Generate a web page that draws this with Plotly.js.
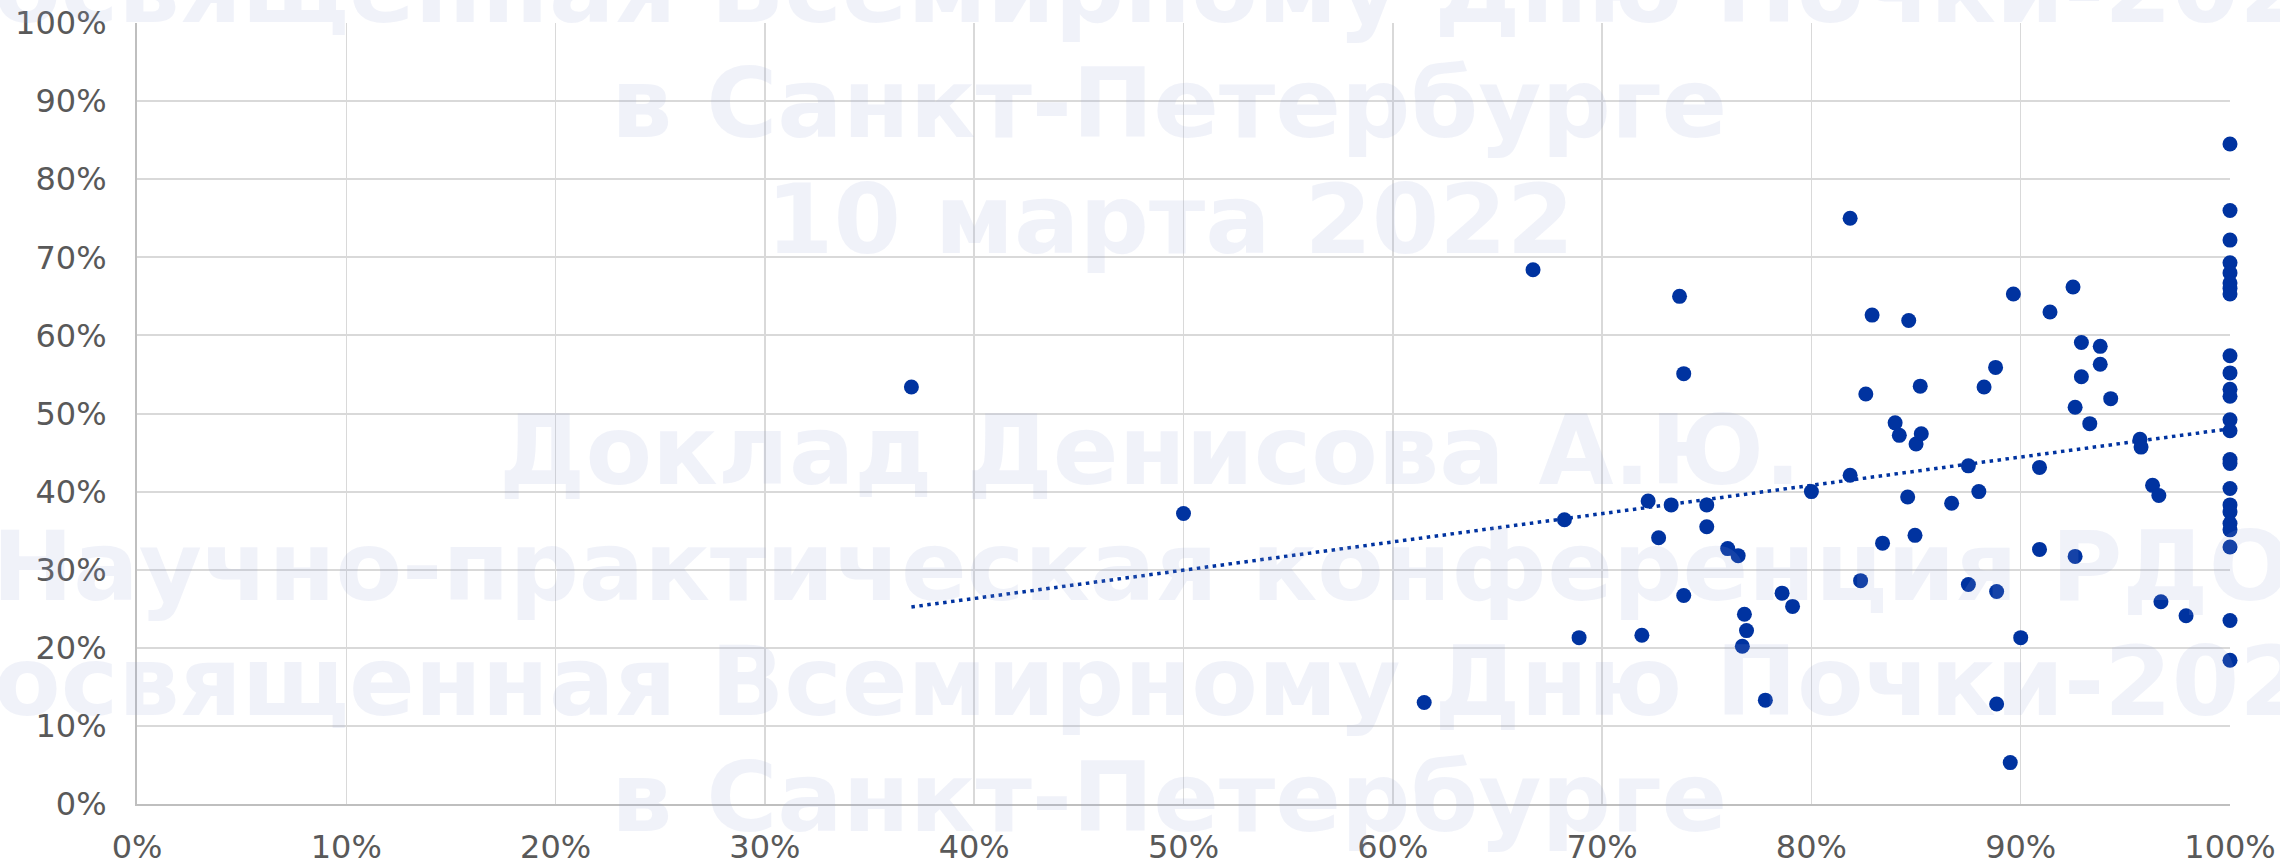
<!DOCTYPE html>
<html>
<head>
<meta charset="utf-8">
<script src="https://cdn.plot.ly/plotly-3.0.1.min.js"></script>
<style>
  html, body { margin: 0; padding: 0; background: #ffffff; }
  #chart { width: 2280px; height: 862px; }
</style>
</head>
<body>
<div id="chart"></div>
<script>
// ---- Data (fractions) ----
var xValues = [
  0.370, 0.500, 0.615, 0.667, 0.682, 0.689, 0.719, 0.722, 0.727, 0.733,
  0.737, 0.739, 0.739, 0.750, 0.750, 0.760, 0.765, 0.768, 0.769, 0.767,
  0.778, 0.786, 0.791, 0.800, 0.8185, 0.8185, 0.8235, 0.826, 0.829, 0.834,
  0.840, 0.842, 0.8465, 0.846, 0.850, 0.8495, 0.852, 0.8525, 0.867, 0.875,
  0.875, 0.880, 0.8825, 0.888, 0.8885, 0.8885, 0.895, 0.8965, 0.900, 0.909,
  0.909, 0.914, 0.925, 0.926, 0.926, 0.929, 0.929, 0.933, 0.938, 0.938,
  0.943, 0.957, 0.9575, 0.963, 0.966, 0.967, 0.979,
  1.0, 1.0, 1.0, 1.0, 1.0, 1.0, 1.0, 1.0, 1.0, 1.0,
  1.0, 1.0, 1.0, 1.0, 1.0, 1.0, 1.0, 1.0, 1.0, 1.0,
  1.0, 1.0, 1.0, 1.0
];
var yValues = [
  0.534, 0.372, 0.130, 0.684, 0.364, 0.213, 0.216, 0.388, 0.341, 0.383,
  0.650, 0.551, 0.267, 0.383, 0.355, 0.327, 0.318, 0.243, 0.222, 0.202,
  0.133, 0.270, 0.253, 0.400, 0.750, 0.421, 0.286, 0.525, 0.626, 0.334,
  0.488, 0.472, 0.619, 0.393, 0.461, 0.344, 0.535, 0.474, 0.385, 0.433,
  0.281, 0.400, 0.534, 0.559, 0.272, 0.128, 0.053, 0.653, 0.213, 0.431,
  0.326, 0.630, 0.662, 0.508, 0.317, 0.591, 0.547, 0.487, 0.586, 0.563,
  0.519, 0.467, 0.457, 0.408, 0.395, 0.259, 0.241,
  0.845, 0.760, 0.722, 0.693, 0.680, 0.667, 0.660, 0.653, 0.574, 0.552,
  0.531, 0.522, 0.492, 0.478, 0.441, 0.436, 0.404, 0.383, 0.374, 0.359,
  0.351, 0.329, 0.235, 0.184
];
var tickValues = [0, 0.1, 0.2, 0.3, 0.4, 0.5, 0.6, 0.7, 0.8, 0.9, 1.0];
var tickLabels = ['0%', '10%', '20%', '30%', '40%', '50%', '60%', '70%', '80%', '90%', '100%'];
var watermarkLines = [
  'посвященная Всемирному Дню Почки-2022',
  'в Санкт-Петербурге',
  '10 марта 2022',
  '',
  'Доклад Денисова А.Ю.',
  'Научно-практическая конференция РДО,',
  'посвященная Всемирному Дню Почки-2022',
  'в Санкт-Петербурге'
];

// ---- Linear trendline (least squares, like Excel) ----
var n = Math.min(xValues.length, yValues.length), sx = 0, sy = 0, sxx = 0, sxy = 0;
for (var i = 0; i < n; i++) {
  sx += xValues[i]; sy += yValues[i];
  sxx += xValues[i] * xValues[i]; sxy += xValues[i] * yValues[i];
}
var slope = (n * sxy - sx * sy) / (n * sxx - sx * sx);
var intercept = (sy - slope * sx) / n;
var xMin = Math.min.apply(null, xValues), xMax = Math.max.apply(null, xValues);
var trendX = [xMin, xMax];
var trendY = trendX.map(function (v) { return intercept + slope * v; });

var blue = '#0033A0';
var tickFont = { family: 'DejaVu Sans, Verdana, sans-serif', size: 32, color: '#595959' };

var traces = [
  {
    type: 'scatter', mode: 'lines', x: trendX, y: trendY,
    line: { color: blue, width: 3.5, dash: '3.5px,4.5px' },
    hoverinfo: 'skip', showlegend: false
  },
  {
    type: 'scatter', mode: 'markers', x: xValues, y: yValues,
    marker: { color: blue, size: 15, line: { width: 0 } },
    cliponaxis: false, hoverinfo: 'x+y', showlegend: false
  }
];

// watermark geometry (pixels in the 2280x862 page)
var plotL = 137, plotR = 50, plotT = 23, plotB = 58;
var plotW = 2280 - plotL - plotR, plotH = 862 - plotT - plotB;
var wmCentersX = [1150, 1169, 1170, 1160, 1150, 1160, 1150, 1169];
var wmFirstY = -11.5, wmStep = 115.5;
var annotations = [];
watermarkLines.forEach(function (line, k) {
  if (!line) return;
  var yPx = wmFirstY + k * wmStep;
  annotations.push({
    xref: 'paper', yref: 'paper',
    x: (wmCentersX[k] - plotL) / plotW,
    y: (862 - plotB - yPx) / plotH,
    xanchor: 'center', yanchor: 'middle',
    text: line, showarrow: false,
    font: { family: 'DejaVu Sans, sans-serif', size: 97, weight: 'bold', color: 'rgba(150,165,215,0.14)' }
  });
});

var layout = {
  width: 2280, height: 862,
  margin: { l: plotL, r: plotR, t: plotT, b: plotB, pad: 0 },
  paper_bgcolor: '#ffffff', plot_bgcolor: '#ffffff',
  showlegend: false,
  xaxis: {
    range: [0, 1], tickvals: tickValues, ticktext: tickLabels,
    showgrid: true, gridcolor: '#d9d9d9', gridwidth: 1.5,
    zeroline: false, showline: true, linecolor: '#bfbfbf', linewidth: 2,
    ticks: '', tickfont: tickFont, ticklabelstandoff: 14, fixedrange: true
  },
  yaxis: {
    range: [0, 1], tickvals: tickValues, ticktext: tickLabels,
    showgrid: true, gridcolor: '#d9d9d9', gridwidth: 2,
    zeroline: false, showline: true, linecolor: '#bfbfbf', linewidth: 2,
    ticks: '', tickfont: tickFont, ticklabelstandoff: 22, fixedrange: true
  },
  annotations: annotations
};

Plotly.newPlot('chart', traces, layout, { displayModeBar: false, staticPlot: true });
</script>
</body>
</html>
